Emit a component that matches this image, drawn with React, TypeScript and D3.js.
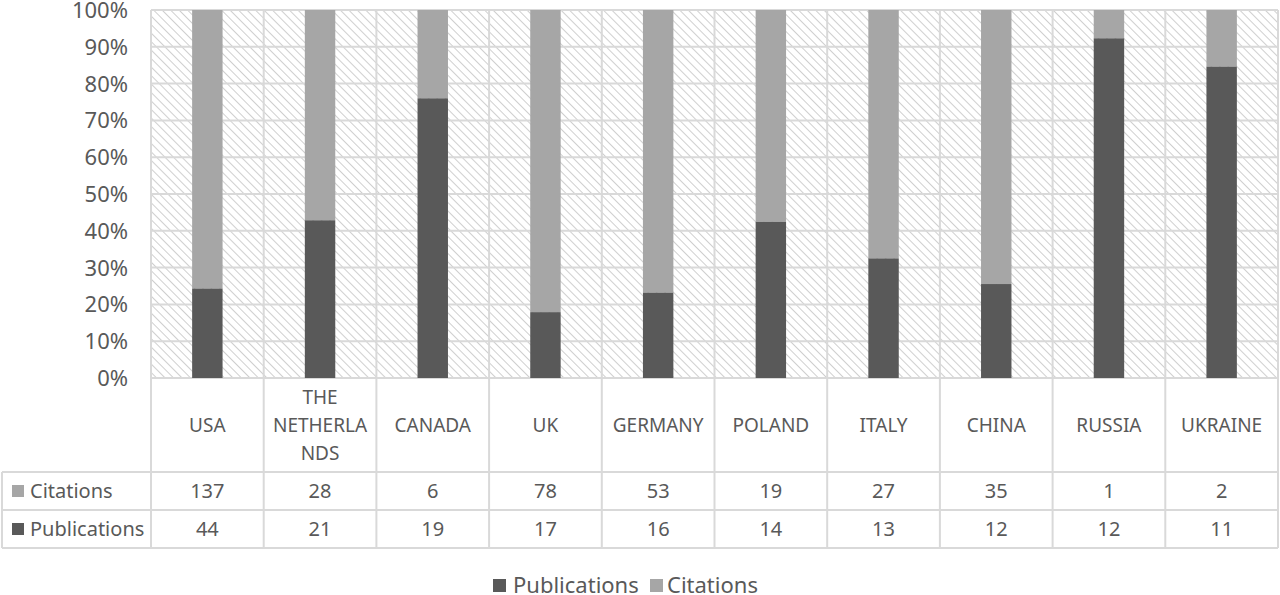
import React from 'react';
import * as d3 from 'd3';

const categories = ["USA", "THE NETHERLANDS", "CANADA", "UK", "GERMANY", "POLAND", "ITALY", "CHINA", "RUSSIA", "UKRAINE"];
const publications = [44, 21, 19, 17, 16, 14, 13, 12, 12, 11];
const citations = [137, 28, 6, 78, 53, 19, 27, 35, 1, 2];
const yTicks = [0, 0.1, 0.2, 0.3, 0.4, 0.5, 0.6, 0.7, 0.8, 0.9, 1];

const W = 1280;
const H = 595;
const FONT = "'Noto Sans', 'Open Sans', sans-serif";
const TEXT = "#595959";
const GRID = "#d9d9d9";
const DARK = "#595959";
const LIGHT = "#a6a6a6";

// Excel wraps the long label inside the table cell
const labelLines = (c: string) => (c === "THE NETHERLANDS" ? ["THE", "NETHERLA", "NDS"] : [c]);

const App: React.FC = () => {
  const plot = { left: 151, right: 1278, top: 10, bottom: 378 };
  const rowCat = { top: 378, bottom: 472 };
  const rowCit = { top: 472, bottom: 510 };
  const rowPub = { top: 510, bottom: 548 };
  const tableLeft = 2;

  const x = d3.scaleBand<string>().domain(categories).range([plot.left, plot.right]);
  const y = d3.scaleLinear().domain([0, 1]).range([plot.bottom, plot.top]);
  const barW = x.bandwidth() * 0.27;
  const fmt = d3.format(".0%");

  const shares = categories.map((c, i) => {
    const total = publications[i] + citations[i];
    return { c, pub: publications[i] / total };
  });

  const bounds = categories.map(c => x(c) as number).concat([plot.right]);

  return (
    <svg width={W} height={H} style={{ position: 'absolute', left: 0, top: 0, background: '#fff' }} fontFamily={FONT}>
      <defs>
        <pattern id="hatch" width="6" height="6" patternUnits="userSpaceOnUse" patternTransform="rotate(45)">
          <rect width="6" height="6" fill="#fff" />
          <line x1="0" y1="0" x2="6" y2="0" stroke="#c4c4c4" strokeWidth="1.6" />
        </pattern>
      </defs>

      {/* plot background */}
      <rect x={plot.left} y={plot.top} width={plot.right - plot.left} height={plot.bottom - plot.top} fill="url(#hatch)" />

      {/* horizontal grid */}
      {yTicks.map(t => (
        <line key={t} x1={plot.left} x2={plot.right} y1={y(t)} y2={y(t)} stroke={GRID} strokeWidth={2} />
      ))}
      {/* vertical grid, continues into table */}
      {bounds.map((b, i) => (
        <line key={i} x1={b} x2={b} y1={plot.top} y2={rowPub.bottom} stroke={GRID} strokeWidth={2} />
      ))}

      {/* bars */}
      {shares.map(s => {
        const cx = (x(s.c) as number) + x.bandwidth() / 2;
        return (
          <g key={s.c}>
            <rect x={cx - barW / 2} y={y(1)} width={barW} height={y(s.pub) - y(1)} fill={LIGHT} />
            <rect x={cx - barW / 2} y={y(s.pub)} width={barW} height={y(0) - y(s.pub)} fill={DARK} />
          </g>
        );
      })}

      {/* y axis labels */}
      {yTicks.map(t => (
        <text key={t} x={128} y={y(t)} dy="0.36em" textAnchor="end" fontSize={22} fill={TEXT}>{fmt(t)}</text>
      ))}

      {/* table lines */}
      <line x1={plot.left} x2={plot.right} y1={rowCat.bottom} y2={rowCat.bottom} stroke={GRID} strokeWidth={2} />
      <line x1={tableLeft} x2={plot.right} y1={rowCit.top} y2={rowCit.top} stroke={GRID} strokeWidth={2} />
      <line x1={tableLeft} x2={plot.right} y1={rowPub.top} y2={rowPub.top} stroke={GRID} strokeWidth={2} />
      <line x1={tableLeft} x2={plot.right} y1={rowPub.bottom} y2={rowPub.bottom} stroke={GRID} strokeWidth={2} />
      <line x1={tableLeft} x2={tableLeft} y1={rowCit.top} y2={rowPub.bottom} stroke={GRID} strokeWidth={2} />

      {/* category labels */}
      {categories.map(c => {
        const cx = (x(c) as number) + x.bandwidth() / 2;
        const lines = labelLines(c);
        const mid = (rowCat.top + rowCat.bottom) / 2;
        const lh = 28;
        return (
          <text key={c} textAnchor="middle" fontSize={19} fill={TEXT}>
            {lines.map((l, j) => (
              <tspan key={j} x={cx} y={mid + (j - (lines.length - 1) / 2) * lh} dy="0.36em">{l}</tspan>
            ))}
          </text>
        );
      })}

      {/* row headers */}
      <rect x={12} y={(rowCit.top + rowCit.bottom) / 2 - 6} width={12} height={12} fill={LIGHT} />
      <text x={30} y={(rowCit.top + rowCit.bottom) / 2} dy="0.36em" fontSize={20} fill={TEXT}>Citations</text>
      <rect x={12} y={(rowPub.top + rowPub.bottom) / 2 - 6} width={12} height={12} fill={DARK} />
      <text x={30} y={(rowPub.top + rowPub.bottom) / 2} dy="0.36em" fontSize={20} fill={TEXT}>Publications</text>

      {/* table values */}
      {categories.map((c, i) => {
        const cx = (x(c) as number) + x.bandwidth() / 2;
        return (
          <g key={c}>
            <text x={cx} y={(rowCit.top + rowCit.bottom) / 2} dy="0.36em" textAnchor="middle" fontSize={20} fill={TEXT}>{citations[i]}</text>
            <text x={cx} y={(rowPub.top + rowPub.bottom) / 2} dy="0.36em" textAnchor="middle" fontSize={20} fill={TEXT}>{publications[i]}</text>
          </g>
        );
      })}

      {/* legend */}
      <rect x={493} y={579} width={13} height={13} fill={DARK} />
      <text x={513} y={585} dy="0.36em" fontSize={22} fill={TEXT}>Publications</text>
      <rect x={650} y={579} width={13} height={13} fill={LIGHT} />
      <text x={667} y={585} dy="0.36em" fontSize={22} fill={TEXT}>Citations</text>
    </svg>
  );
};

export default App;
